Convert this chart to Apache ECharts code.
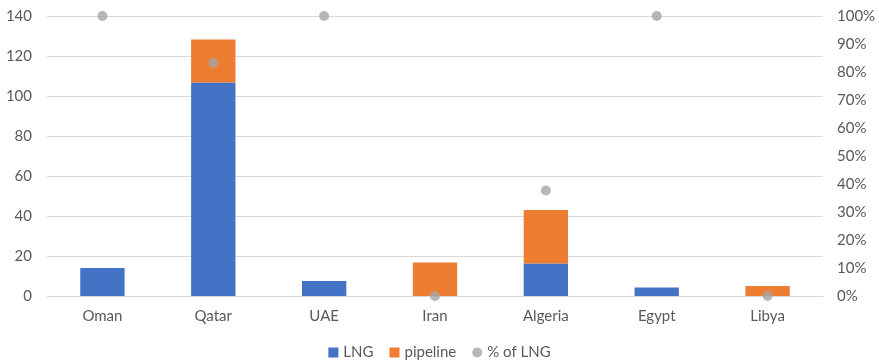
<!DOCTYPE html>
<html>
<head>
<meta charset="utf-8">
<script src="https://cdn.jsdelivr.net/npm/echarts@6/dist/echarts.min.js"></script>
<style>
  html, body { margin: 0; padding: 0; background: #fff; }
  #chart { width: 879px; height: 362px; }
</style>
</head>
<body>
<div id="chart"></div>
<script>
// Gas export volumes by country, split into LNG and pipeline, with LNG share
const countries = ['Oman', 'Qatar', 'UAE', 'Iran', 'Algeria', 'Egypt', 'Libya'];
const lng = [14, 106.7, 7.5, 0, 16.2, 4.3, 0];
const pipeline = [0, 21.6, 0, 16.7, 26.8, 0, 5];
const lngShare = [1, 0.832, 1, 0, 0.377, 1, 0];
const leftTicks = { min: 0, max: 140, interval: 20 };
const rightTicks = { min: 0, max: 1, interval: 0.1 };

const textColor = '#595959';
const fontFamily = 'Lato, "Open Sans", sans-serif';
const fontSize = 15;

const chart = echarts.init(document.getElementById('chart'));
chart.setOption({
  animation: false,
  textStyle: { fontFamily: fontFamily },
  grid: { left: 47, right: 56, top: 16, bottom: 66 },
  legend: {
    top: 345,
    padding: 0,
    left: 'center',
    itemWidth: 10,
    itemHeight: 10,
    itemGap: 16,
    textStyle: { color: textColor, fontSize: fontSize, fontFamily: fontFamily },
    data: [
      { name: 'LNG', icon: 'rect' },
      { name: 'pipeline', icon: 'rect' },
      { name: '% of LNG', icon: 'circle' }
    ]
  },
  xAxis: {
    type: 'category',
    data: countries,
    axisTick: { show: false },
    axisLine: { lineStyle: { color: '#D9D9D9', width: 1 } },
    axisLabel: { color: textColor, fontSize: fontSize, margin: 13 }
  },
  yAxis: [
    {
      type: 'value',
      min: leftTicks.min,
      max: leftTicks.max,
      interval: leftTicks.interval,
      axisLine: { show: false },
      axisTick: { show: false },
      splitLine: { lineStyle: { color: '#D9D9D9', width: 1 } },
      axisLabel: { color: textColor, fontSize: fontSize, margin: 15 }
    },
    {
      type: 'value',
      min: rightTicks.min,
      max: rightTicks.max,
      interval: rightTicks.interval,
      position: 'right',
      axisLine: { show: false },
      axisTick: { show: false },
      splitLine: { show: false },
      axisLabel: {
        color: textColor,
        fontSize: fontSize,
        margin: 14,
        formatter: v => Math.round(v * 100) + '%'
      }
    }
  ],
  series: [
    {
      name: 'LNG',
      type: 'bar',
      stack: 'total',
      data: lng,
      barWidth: '40%',
      itemStyle: { color: '#4472C4' }
    },
    {
      name: 'pipeline',
      type: 'bar',
      stack: 'total',
      data: pipeline,
      barWidth: '40%',
      itemStyle: { color: '#ED7D31' }
    },
    {
      name: '% of LNG',
      type: 'scatter',
      yAxisIndex: 1,
      data: lngShare,
      symbol: 'circle',
      symbolSize: 10,
      itemStyle: { color: '#A5A5A5' },
      z: 5
    }
  ]
});
</script>
</body>
</html>
